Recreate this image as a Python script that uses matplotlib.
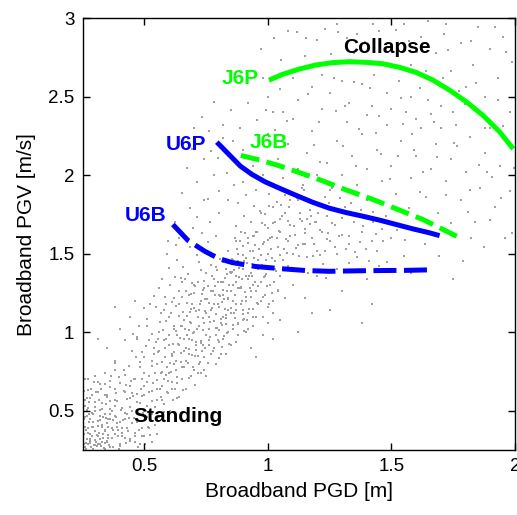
import numpy as np
import matplotlib
matplotlib.use("Agg")
import matplotlib.pyplot as plt

plt.rcParams['font.family'] = ['Liberation Sans', 'DejaVu Sans']

# scatter cloud of simulations (PGD [m], PGV [m/s])
cloud = np.array([
    # dense lower-left corner
    (0.26,0.27),(0.28,0.31),(0.27,0.36),(0.30,0.28),(0.31,0.34),(0.29,0.40),(0.33,0.30),(0.34,0.38),
    (0.32,0.44),(0.26,0.46),(0.36,0.27),(0.37,0.33),(0.35,0.42),(0.38,0.47),(0.40,0.29),(0.41,0.36),
    (0.39,0.40),(0.42,0.45),(0.44,0.31),(0.43,0.39),(0.27,0.52),(0.30,0.50),(0.33,0.55),(0.36,0.51),
    (0.39,0.56),(0.41,0.52),(0.44,0.58),(0.28,0.58),(0.31,0.62),(0.35,0.60),(0.38,0.64),(0.42,0.62),
    (0.45,0.50),(0.46,0.36),(0.47,0.43),(0.48,0.29),(0.50,0.34),(0.29,0.26),(0.34,0.26),(0.25,0.33),
    (0.26,0.40),(0.28,0.45),(0.30,0.37),(0.32,0.32),(0.34,0.48),(0.36,0.45),(0.37,0.39),(0.40,0.43),
    (0.43,0.48),(0.45,0.42),(0.27,0.29),(0.31,0.29),(0.35,0.31),(0.38,0.35),(0.42,0.33),(0.46,0.30),
    (0.49,0.39),(0.33,0.41),(0.29,0.48),(0.25,0.55),(0.27,0.63),(0.32,0.67),(0.36,0.69),(0.40,0.68),
    (0.44,0.66),(0.47,0.61),(0.48,0.55),(0.51,0.46),(0.52,0.39),(0.53,0.30),(0.55,0.35),(0.26,0.70),
    (0.30,0.72),(0.34,0.74),(0.38,0.76),(0.42,0.73),(0.46,0.70),(0.50,0.66),
    (0.252,0.412),(0.318,0.287),(0.274,0.556),(0.341,0.373),(0.263,0.298),(0.296,0.684),(0.329,0.511),
    (0.257,0.629),(0.306,0.348),(0.283,0.271),(0.347,0.589),(0.268,0.467),(0.311,0.433),(0.289,0.395),
    (0.336,0.262),(0.254,0.352),(0.322,0.641),(0.278,0.318),(0.301,0.527),(0.344,0.452),(0.259,0.531),
    (0.293,0.258),(0.327,0.398),(0.271,0.701),(0.315,0.572),(0.286,0.488),(0.349,0.301),(0.262,0.377),
    (0.304,0.619),(0.331,0.327),(0.276,0.428),(0.298,0.314),(0.339,0.668),(0.267,0.582),(0.321,0.466),
    (0.253,0.268),(0.309,0.276),(0.287,0.603),(0.343,0.544),(0.281,0.351),
    (0.357,0.283),(0.412,0.441),(0.386,0.612),(0.443,0.318),(0.368,0.498),(0.401,0.274),(0.429,0.573),
    (0.374,0.377),(0.447,0.692),(0.391,0.337),(0.418,0.758),(0.361,0.651),(0.436,0.456),(0.382,0.532),
    (0.408,0.389),(0.353,0.447),(0.425,0.296),(0.397,0.713),(0.441,0.527),(0.371,0.268),(0.416,0.624),
    (0.388,0.421),(0.433,0.371),(0.359,0.562),(0.404,0.507),(0.379,0.803),(0.449,0.612),(0.395,0.259),
    (0.421,0.487),(0.366,0.719),(0.438,0.788),(0.384,0.463),(0.411,0.338),(0.354,0.346),(0.427,0.663),
    (0.257,0.288),(0.266,0.323),(0.279,0.297),(0.288,0.341),(0.297,0.282),(0.305,0.303),(0.314,0.359),
    (0.323,0.274),(0.333,0.352),(0.342,0.293),(0.351,0.326),(0.262,0.258),(0.272,0.391),(0.292,0.427),
    (0.312,0.402),(0.332,0.461),(0.352,0.394),(0.372,0.441),(0.392,0.379),(0.277,0.478),(0.298,0.559),
    (0.319,0.508),(0.339,0.603),(0.361,0.482),(0.381,0.571),(0.255,0.447),(0.269,0.505),(0.284,0.641),
    (0.313,0.681),(0.261,0.567),
    # rising band
    (0.48,0.78),(0.50,0.84),(0.52,0.72),(0.54,0.90),(0.55,0.80),(0.57,0.66),(0.58,0.95),(0.60,0.74),
    (0.61,0.86),(0.62,1.02),(0.63,0.58),(0.64,0.92),(0.65,0.70),(0.66,1.08),(0.67,0.82),(0.68,0.96),
    (0.69,1.15),(0.70,0.76),(0.71,0.89),(0.72,1.04),(0.73,1.20),(0.74,0.84),(0.75,0.98),(0.76,1.10),
    (0.77,1.26),(0.78,0.90),(0.79,1.03),(0.80,1.16),(0.81,1.32),(0.82,0.96),(0.83,1.09),(0.84,1.22),
    (0.85,1.38),(0.86,1.02),(0.87,1.14),(0.88,1.28),(0.90,1.08),(0.91,1.20),(0.92,1.34),(0.94,1.15),
    (0.95,1.26),(0.50,0.60),(0.52,0.95),(0.53,0.56),(0.56,1.00),(0.57,0.75),(0.59,0.62),(0.60,1.10),
    (0.62,0.80),(0.63,0.68),(0.64,1.18),(0.66,0.88),(0.67,0.64),(0.68,1.24),(0.69,0.72),(0.70,1.00),
    (0.72,0.80),(0.73,0.93),(0.74,1.28),(0.75,0.72),(0.76,1.02),(0.77,0.86),(0.78,1.18),(0.79,0.80),
    (0.80,0.94),(0.81,1.06),(0.82,1.24),(0.83,0.86),(0.84,1.00),(0.85,1.12),(0.86,1.30),(0.87,0.94),
    (0.88,1.06),(0.89,1.18),(0.90,1.40),(0.91,1.00),(0.92,1.12),(0.93,1.26),(0.94,1.04),(0.96,1.18),
    (0.97,1.32),(0.98,1.10),(0.99,1.24),(1.00,1.16),(1.01,1.30),(1.02,1.20),(1.04,1.26),(1.05,1.36),
    (1.07,1.22),(0.45,0.88),(0.47,0.96),(0.49,0.70),(0.51,1.04),(0.53,0.82),(0.55,0.64),(0.56,0.88),
    (0.58,0.70),(0.58,1.14),(0.60,0.92),(0.61,0.64),(0.62,1.22),(0.63,0.98),(0.65,0.78),(0.65,1.32),
    (0.66,0.96),(0.68,0.86),(0.69,1.06),(0.70,1.30),(0.71,0.94),(0.72,1.14),(0.73,0.74),(0.74,1.06),
    (0.75,1.38),(0.76,0.92),(0.77,1.14),(0.78,1.34),(0.79,0.98),(0.80,1.24),(0.81,0.86),(0.82,1.10),
    (0.83,1.40),(0.84,1.14),(0.85,0.92),(0.86,1.20),(0.87,1.36),(0.88,0.98),(0.89,1.28),(0.90,1.14),
    (0.92,1.02),(0.93,1.38),(0.95,1.10),(0.96,1.40),(0.97,1.20),(0.99,1.36),(1.00,1.06),(1.02,1.12),
    (1.03,1.40),(0.38,1.16),(0.31,0.96),(0.35,0.90),(0.40,1.02),(0.38,0.82),(0.44,1.10),(0.42,0.95),
    (0.46,1.20),
    (0.462,0.342),(0.517,0.621),(0.488,0.873),(0.541,0.412),(0.471,0.558),(0.503,0.291),(0.529,0.783),
    (0.456,0.702),(0.494,0.487),(0.547,0.938),(0.479,0.381),(0.512,0.532),(0.536,0.678),(0.467,0.843),
    (0.499,0.741),(0.523,0.347),(0.458,0.453),(0.484,0.638),(0.549,0.569),(0.506,0.912),(0.474,0.268),
    (0.531,0.482),(0.491,0.592),(0.544,0.743),(0.468,0.967),(0.515,0.397),(0.482,0.811),(0.538,0.861),
    (0.453,0.592),(0.509,0.683),
    (0.561,0.642),(0.617,0.928),(0.588,1.073),(0.641,0.587),(0.572,0.813),(0.603,0.497),(0.629,0.762),
    (0.556,0.957),(0.594,0.688),(0.647,1.043),(0.579,0.542),(0.612,0.851),(0.636,0.923),(0.567,0.738),
    (0.599,0.982),(0.623,0.638),(0.558,0.463),(0.584,0.897),(0.649,0.812),(0.606,1.124),(0.574,1.017),
    (0.631,0.713),(0.591,0.778),(0.644,0.963),(0.568,0.591),(0.615,0.568),(0.582,0.842),(0.638,1.102),
    (0.553,0.872),(0.609,0.747),(0.626,1.008),(0.597,0.612),(0.563,1.068),(0.621,0.872),(0.586,0.957),
    (0.661,0.782),(0.717,1.098),(0.688,1.243),(0.741,0.757),(0.672,0.983),(0.703,0.667),(0.729,0.942),
    (0.656,1.127),(0.694,0.858),(0.747,1.213),(0.679,0.712),(0.712,1.021),(0.736,1.093),(0.667,0.897),
    (0.699,1.152),(0.723,0.808),(0.658,0.633),(0.684,1.067),(0.749,0.982),(0.706,1.294),(0.674,1.187),
    (0.731,0.883),(0.691,0.948),(0.744,1.133),(0.668,1.261),(0.715,0.738),(0.682,1.012),(0.738,1.272),
    (0.653,1.042),(0.709,0.917),(0.726,1.178),(0.697,0.782),(0.663,1.338),(0.721,1.042),(0.686,1.127),
    (0.761,0.952),(0.817,1.268),(0.788,1.413),(0.841,0.927),(0.772,1.153),(0.803,0.837),(0.829,1.112),
    (0.756,1.297),(0.794,1.028),(0.847,1.383),(0.779,0.882),(0.812,1.191),(0.836,1.263),(0.767,1.067),
    (0.799,1.322),(0.823,0.978),(0.758,0.803),(0.784,1.237),(0.849,1.152),(0.806,1.464),(0.774,1.357),
    (0.831,1.053),(0.791,1.118),(0.844,1.303),(0.768,1.431),(0.815,0.908),(0.782,1.182),(0.838,1.442),
    (0.753,1.212),(0.809,1.087),(0.826,1.348),(0.797,0.952),(0.763,1.508),(0.821,1.212),(0.786,1.297),
    (0.861,1.122),(0.917,1.438),(0.888,1.583),(0.941,1.097),(0.872,1.323),(0.903,1.007),(0.929,1.282),
    (0.856,1.467),(0.894,1.198),(0.947,1.553),(0.879,1.052),(0.912,1.361),(0.936,1.433),(0.867,1.237),
    (0.899,1.492),(0.923,1.148),(0.884,1.407),(0.949,1.322),(0.906,1.634),(0.874,1.527),(0.931,1.223),
    (0.891,1.288),(0.944,1.473),(0.868,1.601),(0.915,1.078),(0.882,1.352),(0.938,1.612),(0.853,1.382),
    (0.909,1.257),(0.926,1.518),
    (0.961,1.292),(1.017,1.608),(0.988,1.753),(1.041,1.267),(0.972,1.493),(1.003,1.177),(1.029,1.452),
    (0.956,1.637),(0.994,1.368),(1.047,1.723),(0.979,1.222),(1.012,1.531),(1.036,1.603),(0.967,1.407),
    (0.999,1.662),(1.023,1.318),(0.984,1.577),(1.049,1.492),(1.006,1.804),(0.974,1.697),(1.031,1.393),
    (0.991,1.458),(1.044,1.643),(0.968,1.771),(1.015,1.248),
    (1.061,1.462),(1.137,1.708),(1.088,1.843),(1.221,1.437),(1.072,1.593),(1.163,1.377),(1.209,1.652),
    (1.056,1.737),(1.114,1.538),(1.247,1.823),(1.099,1.392),(1.152,1.631),(1.196,1.703),(1.077,1.507),
    (1.129,1.762),(1.183,1.488),(1.104,1.677),(1.239,1.592),(1.146,1.904),(1.084,1.797),(1.211,1.493),
    (1.121,1.558),(1.174,1.743),(1.068,1.871),(1.235,1.348),
    # upper edge of the band
    (0.512,1.083),(0.547,1.162),(0.583,1.227),(0.531,0.991),(0.604,1.298),(0.566,1.121),(0.622,1.352),
    (0.589,1.183),(0.641,1.264),(0.658,1.417),(0.613,1.191),(0.677,1.371),(0.632,1.458),(0.694,1.312),
    (0.711,1.489),(0.654,1.226),(0.728,1.397),(0.683,1.543),(0.742,1.328),(0.702,1.251),(0.757,1.572),
    (0.719,1.446),(0.773,1.484),(0.739,1.521),(0.788,1.611),(0.537,1.231),(0.573,1.337),(0.498,1.152),
    (0.601,1.412),(0.557,1.284),(0.627,1.553),(0.668,1.593),(0.697,1.661),(0.476,1.043),(0.452,0.987),
    (0.523,1.178),(0.593,1.498),(0.648,1.347),(0.734,1.634),(0.766,1.701),
    # band core, extra
    (0.603,0.803),(0.646,0.871),(0.618,1.037),(0.681,0.893),(0.659,0.957),(0.707,1.133),(0.626,0.817),
    (0.693,1.181),(0.739,1.017),(0.672,1.103),(0.715,0.852),(0.751,1.121),(0.698,0.998),(0.733,1.243),
    (0.781,1.073),(0.718,1.318),(0.762,1.188),(0.807,1.231),(0.746,0.898),(0.792,1.398),(0.827,1.151),
    (0.777,1.262),(0.813,1.044),(0.851,1.261),(0.798,1.181),(0.835,1.372),(0.871,1.177),(0.818,1.318),
    (0.857,1.048),(0.893,1.341),(0.839,1.212),(0.877,1.453),(0.913,1.227),(0.862,1.397),(0.897,1.118),
    (0.934,1.361),(0.881,1.283),(0.919,1.571),(0.954,1.187),(0.902,1.452),(0.941,1.298),(0.977,1.431),
    (0.922,1.357),(0.963,1.527),(0.997,1.292),(0.945,1.611),(0.983,1.352),(1.018,1.473),(0.958,1.421),
    (1.002,1.587),(0.629,1.168),(0.664,1.021),(0.587,0.728),(0.551,0.698),(0.612,0.683),(0.676,0.802),
    (0.704,0.851),(0.738,0.917),(0.766,0.973),(0.803,1.012),(0.833,0.997),(0.868,1.092),(0.901,1.082),
    (0.532,0.628),(0.571,0.572),(0.541,0.523),(0.579,0.493),(0.506,0.449),(0.527,0.437),(0.488,0.342),
    # between the U6 curves
    (0.82,1.45),(0.84,1.52),(0.86,1.46),(0.87,1.58),(0.88,1.50),(0.89,1.64),(0.90,1.55),(0.91,1.47),
    (0.92,1.60),(0.93,1.70),(0.94,1.52),(0.95,1.64),(0.96,1.46),(0.97,1.76),(0.98,1.56),(0.99,1.68),
    (1.00,1.50),(1.01,1.60),(1.02,1.80),(1.03,1.70),(1.04,1.54),(1.05,1.64),(1.06,1.46),(1.07,1.76),
    (1.08,1.58),(1.09,1.68),(1.10,1.50),(1.11,1.62),(1.12,1.84),(1.13,1.72),(1.14,1.56),(1.15,1.66),
    (1.16,1.48),(1.17,1.78),(1.18,1.60),(1.19,1.70),(1.20,1.52),(1.22,1.64),(1.23,1.86),(1.24,1.74),
    (1.25,1.58),(1.27,1.68),(1.28,1.50),(1.30,1.62),(1.31,1.80),(1.33,1.56),(1.35,1.70),(1.36,1.48),
    (1.38,1.64),(1.40,1.84),(1.42,1.58),(1.44,1.52),(1.46,1.66),(1.48,1.45),(1.50,1.60),
    (1.063,1.533),(1.091,1.612),(1.127,1.487),(1.158,1.723),(1.187,1.562),(1.214,1.808),(1.243,1.631),
    (1.273,1.543),(1.301,1.727),(1.329,1.614),(1.352,1.512),(1.383,1.678),(1.411,1.456),(1.437,1.623),
    (1.465,1.582),(1.021,1.693),(1.054,1.812),(1.083,1.707),(1.117,1.853),(1.149,1.561),(1.171,1.687),
    (1.203,1.761),(1.229,1.519),(1.258,1.693),(1.287,1.613),(1.318,1.532),(1.342,1.758),(1.371,1.573),
    (1.398,1.527),(1.426,1.701),(0.872,1.678),(0.905,1.742),(0.943,1.803),(0.877,1.821),(0.913,1.873),
    (0.951,1.903),(0.862,1.937),(0.897,1.958),(1.037,1.832),(1.003,1.882),(1.137,1.921),(1.168,1.837),
    (1.252,1.906),(1.292,1.853),(1.337,1.821),(1.378,1.778),(1.427,1.763),(1.478,1.742),(1.521,1.653),
    (1.553,1.588),
    # above U6P
    (0.80,1.90),(0.84,1.84),(0.78,2.00),(0.74,2.10),(0.70,2.30),(0.76,2.28),(0.82,2.32),(0.86,2.22),
    (0.90,2.16),(0.94,2.06),(0.98,2.00),(1.00,2.26),(1.04,2.10),(1.06,1.98),(1.08,2.20),(1.10,2.36),
    (1.12,2.04),(1.14,1.94),(1.16,2.14),(1.18,2.28),(1.20,2.00),(1.22,2.42),(1.24,2.08),(1.26,1.92),
    (1.28,2.22),(1.30,2.00),(1.32,2.34),(1.34,2.12),(1.36,1.94),(1.38,2.26),(1.40,2.04),(1.42,2.44),
    (1.44,2.16),(1.46,1.96),(1.48,2.32),(1.50,2.06),(1.52,1.88),(1.54,2.22),(1.56,2.40),(1.58,1.98),
    (1.60,2.12),(1.62,2.30),(1.64,1.86),(1.66,2.04),(1.68,2.20),(1.70,2.44),(1.72,1.96),(1.74,2.10),
    (1.76,2.32),(1.78,1.84),(1.80,2.02),(1.82,2.24),(1.84,1.70),(1.86,1.92),(1.88,2.14),(1.90,2.30),
    (1.92,1.80),(1.94,2.06),(1.96,1.60),(1.98,1.90),
    (0.623,1.702),(0.653,1.887),(0.684,1.793),(0.712,1.957),(0.741,1.843),(0.768,2.152),(0.694,2.167),
    (0.733,2.371),(0.782,2.463),(0.817,2.237),(0.852,2.412),(0.887,2.303),(0.921,2.457),(0.957,2.353),
    (0.992,2.417),(1.027,2.287),(1.061,2.403),(0.803,1.757),(0.833,2.013),(0.862,2.087),(0.673,2.043),
    (0.641,1.603),(0.596,1.583),(0.712,1.733),(0.758,1.847),(0.797,2.107),
    # upper, sparse
    (0.97,2.80),(1.00,2.50),(1.02,2.40),(1.05,2.55),(1.08,2.92),(1.10,2.62),(1.12,2.48),(1.15,2.76),
    (1.18,2.56),(1.20,2.86),(1.22,2.64),(1.25,2.52),(1.28,2.96),(1.30,2.60),(1.33,2.46),(1.36,2.90),
    (1.38,2.58),(1.40,2.38),(1.43,2.64),(1.45,2.92),(1.48,2.52),(1.50,2.42),(1.53,2.60),(1.55,2.96),
    (1.58,2.50),(1.60,2.36),(1.62,2.88),(1.65,2.48),(1.68,2.78),(1.70,2.30),(1.72,2.96),(1.75,2.40),
    (1.78,2.84),(1.80,2.56),(1.83,2.70),(1.85,2.94),(1.88,2.50),(1.90,2.80),(1.93,2.62),(1.95,2.88),
    (1.98,2.40),(1.99,2.72),(0.98,2.62),(1.65,2.98),(1.35,2.78),(1.88,2.30),(1.74,2.66),(1.58,2.70),
    (1.163,2.517),(1.208,2.338),(1.257,2.771),(1.302,2.183),(1.347,2.592),(1.391,2.847),(1.436,2.271),
    (1.482,2.693),(1.527,2.119),(1.571,2.853),(1.616,2.557),(1.662,2.391),(1.707,2.621),(1.752,2.203),
    (1.797,2.452),(1.843,2.587),(1.887,2.021),(1.932,2.478),(1.977,2.197),(1.186,2.193),(1.231,2.933),
    (1.276,2.407),(1.321,2.872),(1.367,2.291),(1.412,2.557),(1.457,2.133),(1.503,2.818),(1.548,2.327),
    (1.593,2.157),(1.638,2.663),(1.684,2.117),(1.729,2.797),(1.774,2.538),(1.819,1.903),(1.864,2.381),
    (1.909,1.987),(1.953,2.313),(1.997,2.043),(1.211,2.082),(1.267,2.617),(1.313,2.443),(1.358,2.057),
    (1.403,2.713),(1.449,2.377),(1.494,1.977),(1.539,2.491),(1.584,2.262),(1.629,2.023),(1.674,2.337),
    (1.719,1.873),(1.764,2.183),(1.809,1.767),(1.854,2.063),(1.899,1.713),(1.944,1.853),(1.989,1.633),
    (1.573,1.793),(1.617,1.893),(1.688,1.757),(1.742,1.693),(1.824,1.603),(1.873,1.541),(1.634,1.563),
    (1.551,1.487),(1.692,1.487),(1.788,1.452),(1.283,2.913),(1.427,2.963),(1.517,2.921),(1.603,2.783),
    (1.711,2.897),(1.823,2.853),(1.918,2.943),(1.962,2.781),(1.153,2.871),(1.052,2.731),(1.079,2.347),
    (1.117,2.913),(1.023,2.873),(1.063,2.243),
    # lower right, sparse
    (1.05,1.08),(1.10,1.30),(1.15,1.22),(1.20,1.36),(1.25,1.14),(1.28,1.40),(1.30,1.26),(1.33,1.44),
    (1.38,1.06),(1.40,1.34),(1.42,1.18),(1.45,1.42),(1.58,1.38),(1.75,1.34),(1.12,1.00),(1.08,1.42),
    (1.18,1.12),(0.98,0.98),(1.02,0.96),(0.93,0.90),(0.95,0.84),
])

# fragility boundaries
j6p_x = [1.004, 1.058, 1.126, 1.194, 1.261, 1.329, 1.397, 1.465, 1.533, 1.600, 1.668, 1.736,
         1.804, 1.871, 1.939, 1.993]
j6p_y = [2.604, 2.641, 2.675, 2.701, 2.716, 2.722, 2.718, 2.709, 2.686, 2.654, 2.605, 2.540,
         2.466, 2.380, 2.274, 2.167]
j6b_x = [0.89, 0.97, 1.045, 1.126, 1.221, 1.316, 1.424, 1.519, 1.627, 1.736, 1.77]
j6b_y = [2.125, 2.095, 2.060, 2.017, 1.964, 1.906, 1.846, 1.786, 1.718, 1.633, 1.607]
u6p_x = [0.793, 0.840, 0.888, 0.935, 0.989, 1.045, 1.113, 1.180, 1.248, 1.316, 1.383, 1.451,
         1.519, 1.587, 1.654, 1.695]
u6p_y = [2.210, 2.135, 2.058, 2.005, 1.957, 1.918, 1.872, 1.828, 1.790, 1.762, 1.739, 1.714,
         1.686, 1.658, 1.633, 1.615]
u6b_x = [0.615, 0.676, 0.745, 0.800, 0.854, 0.948, 1.050, 1.153, 1.248, 1.356, 1.465, 1.560, 1.648]
u6b_y = [1.686, 1.585, 1.515, 1.470, 1.444, 1.419, 1.405, 1.393, 1.388, 1.391, 1.393, 1.394, 1.397]

fig = plt.figure(figsize=(5.17, 5.15), dpi=100)
ax = fig.add_axes([0.16, 0.126, 0.836, 0.839])

ax.scatter(cloud[:, 0], cloud[:, 1], s=2.5, c='#a0a0a0', marker='s', linewidths=0)

ax.plot(j6p_x, j6p_y, color='#00ff00', lw=3.6, solid_capstyle='butt', solid_joinstyle='round')
ax.plot(j6b_x, j6b_y, color='#00ff00', lw=3.6, dashes=(3.8, 1.5))
ax.plot(u6p_x, u6p_y, color='#0000ff', lw=3.6, solid_capstyle='butt', solid_joinstyle='round')
ax.plot(u6b_x, u6b_y, color='#0000ff', lw=3.6, dashes=(4.6, 1.5))

lab = dict(fontsize=15, fontweight='bold', va='center')
ax.text(0.963, 2.612, 'J6P', color='#00ff00', ha='right', **lab)
ax.text(0.927, 2.208, 'J6B', color='#00ff00', ha='left', **lab)
ax.text(0.752, 2.196, 'U6P', color='#0000ff', ha='right', **lab)
ax.text(0.589, 1.740, 'U6B', color='#0000ff', ha='right', **lab)
ax.text(1.48, 2.81, 'Collapse', color='black', ha='center', **lab)
ax.text(0.634, 0.462, 'Standing', color='black', ha='center', **lab)

ax.set_xlim(0.25, 2)
ax.set_ylim(0.25, 3)
ax.set_xticks([0.5, 1, 1.5, 2])
ax.set_xticklabels(['0.5', '1', '1.5', '2'])
ax.set_yticks([0.5, 1, 1.5, 2, 2.5, 3])
ax.set_yticklabels(['0.5', '1', '1.5', '2', '2.5', '3'])
ax.tick_params(direction='in', top=True, right=True, length=5, width=1, labelsize=13.5, pad=6)
for sp in ax.spines.values():
    sp.set_linewidth(1)
ax.set_xlabel('Broadband PGD [m]', fontsize=15, labelpad=5)
ax.set_ylabel('Broadband PGV [m/s]', fontsize=15, labelpad=9)

fig.savefig('out.png', dpi=100)
